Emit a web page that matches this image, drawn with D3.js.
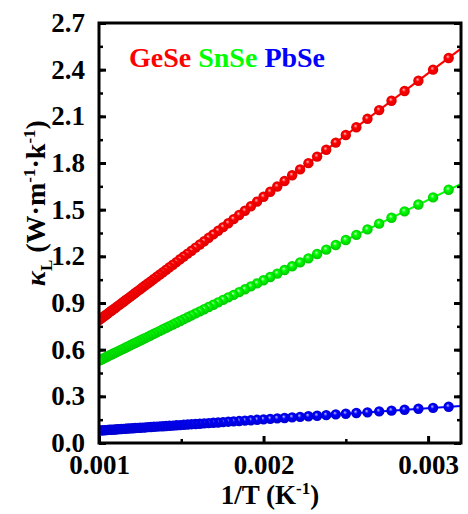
<!DOCTYPE html>
<html>
<head>
<meta charset="utf-8">
<script src="https://cdn.jsdelivr.net/npm/d3@7"></script>
<style>
  body { margin: 0; background: #fff; }
  svg text { font-family: "Liberation Serif", "Times New Roman", Times, serif !important; font-weight: bold; }
</style>
</head>
<body>
<div class="svg-wrapper"></div>
<script>
// temperatures (K) of the points, plotted as 1/T
const temps = [1000, 990, 980, 970, 960, 950, 940, 930, 920, 910, 900, 890, 880, 870, 860, 850, 840, 830, 820, 810,
  800, 790, 780, 770, 760, 750, 740, 730, 720, 710, 700, 690, 680, 670, 660, 650, 640, 630, 620, 610,
  600, 590, 580, 570, 560, 550, 540, 530, 520, 510, 500, 490, 480, 470, 460, 450, 440, 430, 420, 410,
  400, 390, 380, 370, 360, 350, 340, 330, 320];

const gese = [0.790, 0.798, 0.806, 0.815, 0.823, 0.832, 0.841, 0.850, 0.859, 0.868, 0.878, 0.888, 0.898, 0.908, 0.919, 0.930, 0.941, 0.952, 0.964, 0.976,
  0.988, 1.001, 1.014, 1.027, 1.040, 1.054, 1.069, 1.083, 1.098, 1.114, 1.130, 1.146, 1.163, 1.181, 1.199, 1.217, 1.236, 1.256, 1.276, 1.297,
  1.319, 1.341, 1.364, 1.388, 1.413, 1.439, 1.466, 1.493, 1.522, 1.552, 1.583, 1.615, 1.649, 1.684, 1.721, 1.759, 1.799, 1.841, 1.885, 1.931,
  1.980, 2.030, 2.084, 2.140, 2.200, 2.263, 2.329, 2.400, 2.475];

const snse = [0.530, 0.535, 0.540, 0.546, 0.551, 0.557, 0.563, 0.569, 0.575, 0.581, 0.587, 0.594, 0.600, 0.607, 0.614, 0.621, 0.628, 0.636, 0.643, 0.651,
  0.659, 0.667, 0.675, 0.684, 0.693, 0.702, 0.711, 0.721, 0.731, 0.741, 0.751, 0.762, 0.773, 0.784, 0.796, 0.808, 0.820, 0.833, 0.846, 0.860,
  0.874, 0.889, 0.904, 0.920, 0.936, 0.952, 0.970, 0.988, 1.007, 1.026, 1.046, 1.067, 1.089, 1.112, 1.136, 1.161, 1.187, 1.215, 1.243, 1.273,
  1.305, 1.338, 1.373, 1.410, 1.448, 1.489, 1.533, 1.579, 1.628];

const pbse = [0.080, 0.081, 0.081, 0.082, 0.083, 0.084, 0.085, 0.085, 0.086, 0.087, 0.088, 0.089, 0.090, 0.091, 0.092, 0.093, 0.094, 0.095, 0.096, 0.097,
  0.098, 0.099, 0.100, 0.102, 0.103, 0.104, 0.105, 0.107, 0.108, 0.109, 0.111, 0.112, 0.114, 0.115, 0.117, 0.119, 0.121, 0.122, 0.124, 0.126,
  0.128, 0.130, 0.132, 0.134, 0.137, 0.139, 0.141, 0.144, 0.146, 0.149, 0.152, 0.155, 0.158, 0.161, 0.165, 0.168, 0.172, 0.175, 0.179, 0.184,
  0.188, 0.193, 0.197, 0.203, 0.208, 0.214, 0.220, 0.226, 0.233];

// straight fit lines, end points
const fitX = [0.001, 0.0032];
const geseFit = [0.790, 2.535];
const snseFit = [0.530, 1.666];
const pbseFit = [0.080, 0.238];

const seriesNames = ["GeSe", "SnSe", "PbSe"];
const seriesColors = ["#ff0000", "#00ff00", "#0000ff"];
const xTicks = [0.001, 0.002, 0.003];
const yTicks = [0.0, 0.3, 0.6, 0.9, 1.2, 1.5, 1.8, 2.1, 2.4, 2.7];

const FONT = '"Liberation Serif", "Times New Roman", serif';

const width = 468, height = 514;
const margin = {top: 23, right: 7, bottom: 71, left: 99};
const innerWidth = width - margin.left - margin.right;
const innerHeight = height - margin.top - margin.bottom;

const svg = d3.select(".svg-wrapper")
  .append("svg")
  .attr("width", width)
  .attr("height", height);

const xScale = d3.scaleLinear().domain([0.001, 0.0032]).range([0, innerWidth]);
const yScale = d3.scaleLinear().domain([0, 2.7]).range([innerHeight, 0]);

// ball-like markers
const defs = svg.append("defs");
const shades = [
  {hi: "#ffc0c0", mid: "#ff0000", lo: "#d80000"},
  {hi: "#d0ffd0", mid: "#00ff00", lo: "#00c000"},
  {hi: "#c0c0ff", mid: "#0000ff", lo: "#0000c8"}
];
shades.forEach(function(s, i){
  const grad = defs.append("radialGradient")
    .attr("id", "ball" + i)
    .attr("cx", "50%").attr("cy", "50%").attr("r", "55%")
    .attr("fx", "40%").attr("fy", "35%");
  grad.append("stop").attr("offset", "0%").attr("stop-color", s.hi);
  grad.append("stop").attr("offset", "35%").attr("stop-color", s.mid);
  grad.append("stop").attr("offset", "100%").attr("stop-color", s.lo);
});
defs.append("clipPath").attr("id", "plot-clip")
  .append("rect").attr("width", innerWidth).attr("height", innerHeight);

const g = svg.append("g")
  .attr("transform", `translate(${margin.left},${margin.top})`);

const allSeries = [gese, snse, pbse];
const allFits = [geseFit, snseFit, pbseFit];

const plot = g.append("g").attr("clip-path", "url(#plot-clip)");

const line = d3.line()
  .x(d => xScale(d[0]))
  .y(d => yScale(d[1]));

allSeries.forEach(function(vals, i){
  plot.append("path")
    .attr("d", line(fitX.map((x, j) => [x, allFits[i][j]])))
    .attr("fill", "none")
    .attr("stroke", seriesColors[i])
    .attr("stroke-width", 2);

  plot.append("g").selectAll("circle")
    .data(temps.map((t, j) => [1 / t, vals[j]]).reverse())
    .enter()
    .append("circle")
    .attr("cx", d => xScale(d[0]))
    .attr("cy", d => yScale(d[1]))
    .attr("r", 5.2)
    .attr("fill", "url(#ball" + i + ")");
});

// axes: ticks inward, left/bottom labelled, right mirrored
const yMinor = d3.range(0, 2.71, 0.15);
const xMinor = [0.0015, 0.0025];

const yAxisG = g.append("g")
  .call(d3.axisLeft(yScale).tickValues(yTicks).tickSize(-7).tickPadding(14).tickFormat(d3.format(".1f")));
yAxisG.attr("font-family", FONT);
yAxisG.selectAll(".tick line").attr("stroke-width", 3);
yAxisG.selectAll("text").attr("font-size", 27).attr("fill", "#000");
yAxisG.select(".domain").remove();

g.append("g")
  .call(d3.axisLeft(yScale).tickValues(yMinor).tickSize(-4).tickFormat(""))
  .call(a => a.select(".domain").remove())
  .selectAll(".tick line").attr("stroke-width", 2.5);

g.append("g").attr("transform", `translate(${innerWidth},0)`)
  .call(d3.axisRight(yScale).tickValues(yTicks).tickSize(-7).tickFormat(""))
  .call(a => a.select(".domain").remove())
  .selectAll(".tick line").attr("stroke-width", 3);
g.append("g").attr("transform", `translate(${innerWidth},0)`)
  .call(d3.axisRight(yScale).tickValues(yMinor).tickSize(-4).tickFormat(""))
  .call(a => a.select(".domain").remove())
  .selectAll(".tick line").attr("stroke-width", 2.5);

const xAxisG = g.append("g")
  .attr("transform", `translate(0,${innerHeight})`)
  .call(d3.axisBottom(xScale).tickValues(xTicks).tickSize(-7).tickPadding(12).tickFormat(d3.format(".3f")));
xAxisG.attr("font-family", FONT);
xAxisG.selectAll(".tick line").attr("stroke-width", 3);
xAxisG.selectAll("text").attr("font-size", 27).attr("fill", "#000");
xAxisG.select(".domain").remove();

g.append("g")
  .attr("transform", `translate(0,${innerHeight})`)
  .call(d3.axisBottom(xScale).tickValues(xMinor).tickSize(-4).tickFormat(""))
  .call(a => a.select(".domain").remove())
  .selectAll(".tick line").attr("stroke-width", 2.5);

// frame
g.append("rect")
  .attr("width", innerWidth)
  .attr("height", innerHeight)
  .attr("fill", "none")
  .attr("stroke", "#000")
  .attr("stroke-width", 3);

// legend text
const legend = g.append("text")
  .attr("x", 30)
  .attr("y", 44)
  .attr("font-family", FONT)
  .attr("font-size", 28);
seriesNames.forEach(function(n, i){
  legend.append("tspan")
    .attr("fill", seriesColors[i])
    .text((i > 0 ? " " : "") + n);
});

// x label
const xLab = svg.append("text")
  .attr("x", margin.left + innerWidth / 2 - 10)
  .attr("y", 504)
  .attr("text-anchor", "middle")
  .attr("font-family", FONT)
  .attr("font-size", 27);
xLab.append("tspan").text("1/T (K");
xLab.append("tspan").attr("dy", -10).attr("font-size", 17).text("-1");
xLab.append("tspan").attr("dy", 10).text(")");

// y label
const yLab = svg.append("text")
  .attr("transform", `translate(45,${margin.top + innerHeight / 2 - 30}) rotate(-90)`)
  .attr("text-anchor", "middle")
  .attr("font-family", FONT)
  .attr("font-size", 28);
yLab.append("tspan").attr("font-style", "italic").text("κ");
yLab.append("tspan").attr("dy", 7).attr("font-size", 17).text("L");
yLab.append("tspan").attr("dy", -7).text(" (W·m");
yLab.append("tspan").attr("dy", -10).attr("font-size", 17).text("-1");
yLab.append("tspan").attr("dy", 10).text("·k");
yLab.append("tspan").attr("dy", -10).attr("font-size", 17).text("-1");
yLab.append("tspan").attr("dy", 10).text(")");
</script>
</body>
</html>
